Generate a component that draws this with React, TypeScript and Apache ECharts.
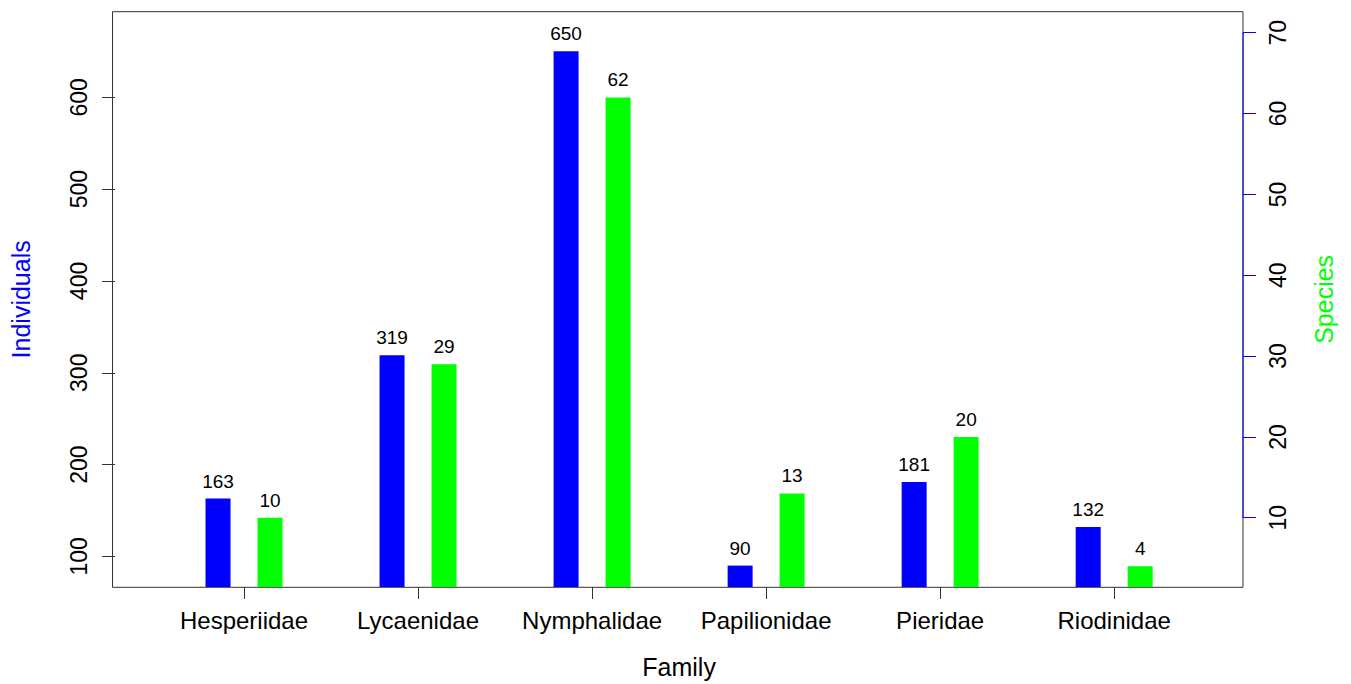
import React, { useEffect, useRef } from "react";
import * as echarts from "echarts";

const families = ["Hesperiidae", "Lycaenidae", "Nymphalidae", "Papilionidae", "Pieridae", "Riodinidae"];
const individuals = [163, 319, 650, 90, 181, 132];
const species = [10, 29, 62, 13, 20, 4];
const leftTicks = [100, 200, 300, 400, 500, 600];
const rightTicks = [10, 20, 30, 40, 50, 60, 70];

const FONT = "'Liberation Sans', Arial, sans-serif";

export default function App() {
  const ref = useRef<HTMLDivElement>(null);
  useEffect(() => {
    if (!ref.current) return;
    const chart = echarts.init(ref.current, null, { renderer: "svg" });
    const boxLeft = 112.5;
    const boxRight = 108;
    const top = 11.7;
    const bottom = 96.7;
    const plotLeft = 154.5;
    const plotRight = 149.8;
    chart.setOption({
      animation: false,
      backgroundColor: "#ffffff",
      textStyle: { fontFamily: FONT },
      grid: [
        { left: plotLeft, right: plotRight, top, bottom, show: false },
        { left: boxLeft, right: boxRight, top, bottom, show: true, borderColor: "#333333", borderWidth: 1, backgroundColor: "transparent" },
      ],
      xAxis: [
        {
          type: "category",
          gridIndex: 0,
          data: families,
          boundaryGap: true,
          axisLine: { show: false },
          axisTick: { show: true, alignWithLabel: true, length: 12, lineStyle: { color: "#333333" } },
          axisLabel: { color: "#000", fontSize: 24, margin: 21, interval: 0, fontFamily: FONT },
          name: "Family",
          nameLocation: "middle",
          nameGap: 67,
          nameTextStyle: { color: "#000", fontSize: 25, fontFamily: FONT },
          splitLine: { show: false },
        },
      ],
      yAxis: [
        {
          type: "value",
          gridIndex: 0,
          position: "left",
          offset: plotLeft - boxLeft,
          min: 66.7,
          max: 693.2,
          axisLine: { show: false },
          axisTick: { show: true, length: 13, lineStyle: { color: "#333333" }, customValues: leftTicks },
          axisLabel: { color: "#000", fontSize: 23, rotate: 90, margin: 25, fontFamily: FONT, customValues: leftTicks },
          splitLine: { show: false },
          name: "Individuals",
          nameLocation: "middle",
          nameRotate: 90,
          nameGap: 82,
          nameTextStyle: { color: "#0000ff", fontSize: 25, fontFamily: FONT },
        },
        {
          type: "value",
          gridIndex: 0,
          position: "right",
          offset: plotRight - boxRight,
          min: 1.43,
          max: 72.6,
          axisLine: { show: false },
          axisTick: { show: true, length: 13, lineStyle: { color: "#0000ff" }, customValues: rightTicks },
          axisLabel: { color: "#000", fontSize: 23, rotate: 90, margin: 23, fontFamily: FONT, customValues: rightTicks },
          splitLine: { show: false },
          name: "Species",
          nameLocation: "middle",
          nameRotate: 90,
          nameGap: 68,
          nameTextStyle: { color: "#00ff00", fontSize: 25, fontFamily: FONT },
        },
      ],
      series: [
        {
          type: "bar",
          name: "Individuals",
          xAxisIndex: 0,
          yAxisIndex: 0,
          data: individuals,
          barWidth: 25,
          barGap: "108%",
          clip: true,
          itemStyle: { color: "#0000ff" },
          label: { show: true, position: "top", distance: 8, color: "#000", fontSize: 19, fontFamily: FONT },
        },
        {
          type: "bar",
          name: "Species",
          xAxisIndex: 0,
          yAxisIndex: 1,
          data: species,
          barWidth: 25,
          barGap: "108%",
          clip: true,
          itemStyle: { color: "#00ff00" },
          label: { show: true, position: "top", distance: 8, color: "#000", fontSize: 19, fontFamily: FONT },
        },
      ],
    });
    const yA = chart.convertToPixel({ yAxisIndex: 1 }, rightTicks[0]) as number;
    const yB = chart.convertToPixel({ yAxisIndex: 1 }, rightTicks[rightTicks.length - 1]) as number;
    const xR = chart.getWidth() - boxRight;
    chart.setOption({
      graphic: [
        {
          type: "line",
          z: 100,
          shape: { x1: xR, y1: yA, x2: xR, y2: yB },
          style: { stroke: "#0000ff", lineWidth: 1 },
        },
      ],
    });
    return () => chart.dispose();
  }, []);
  return (
    <div
      ref={ref}
      style={{ position: "absolute", left: 0, top: 0, width: 1351, height: 684 }}
    />
  );
}
